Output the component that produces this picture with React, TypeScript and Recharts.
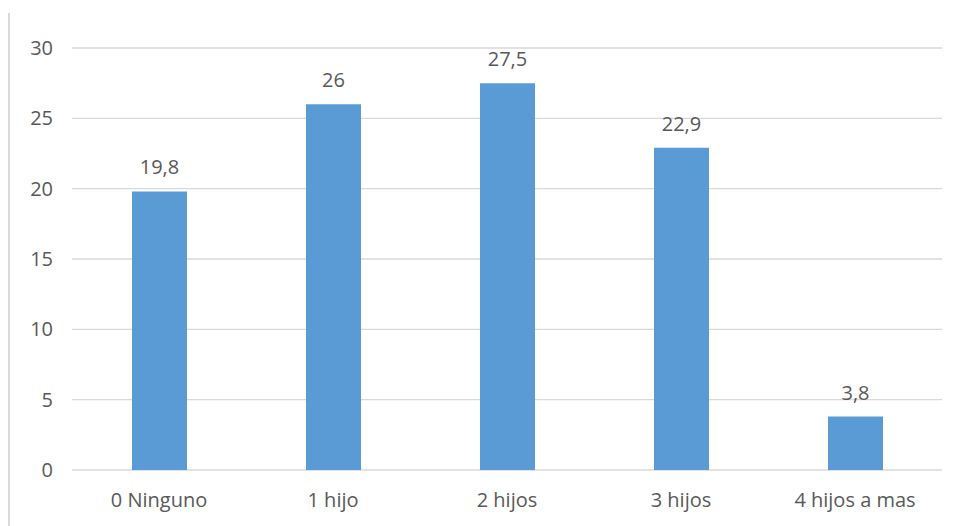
import React from "react";
import { BarChart, Bar, XAxis, YAxis, CartesianGrid, LabelList } from "recharts";

const categories = ["0 Ninguno", "1 hijo", "2 hijos", "3 hijos", "4 hijos a mas"];
const values = [19.8, 26, 27.5, 22.9, 3.8];
const yTicks = [0, 5, 10, 15, 20, 25, 30];

const data = categories.map((name, i) => ({ name, value: values[i] }));

const textColor = "#595959";
const fontFamily = "'Open Sans', 'Liberation Sans', sans-serif";
const fontSize = 20;

const fmt = (v: number | string) => String(v).replace(".", ",");

export default function App() {
  return (
    <div style={{ position: "absolute", left: 0, top: 0, width: 957, height: 526, background: "#fff", fontFamily }}>
      <div style={{ position: "absolute", left: 8, top: 13, width: 2, height: 513, background: "#d9d9d9" }} />
      <BarChart
        width={957}
        height={526}
        data={data}
        margin={{ top: 48, right: 15, bottom: 0, left: 0 }}
      >
        <CartesianGrid vertical={false} stroke="#d9d9d9" strokeWidth={1.3} />
        <XAxis
          dataKey="name"
          axisLine={false}
          tickLine={false}
          tickSize={0}
          tickMargin={23}
          height={56}
          tick={{ fill: textColor, fontSize, fontFamily }}
        />
        <YAxis
          domain={[0, 30]}
          ticks={yTicks}
          axisLine={false}
          tickLine={false}
          tickSize={0}
          tickMargin={19}
          width={72}
          tick={{ fill: textColor, fontSize, fontFamily }}
        />
        <Bar dataKey="value" fill="#5b9bd5" barSize={55} isAnimationActive={false}>
          <LabelList
            dataKey="value"
            position="top"
            offset={17}
            formatter={fmt}
            style={{ fill: textColor, fontSize, fontFamily }}
          />
        </Bar>
      </BarChart>
    </div>
  );
}
